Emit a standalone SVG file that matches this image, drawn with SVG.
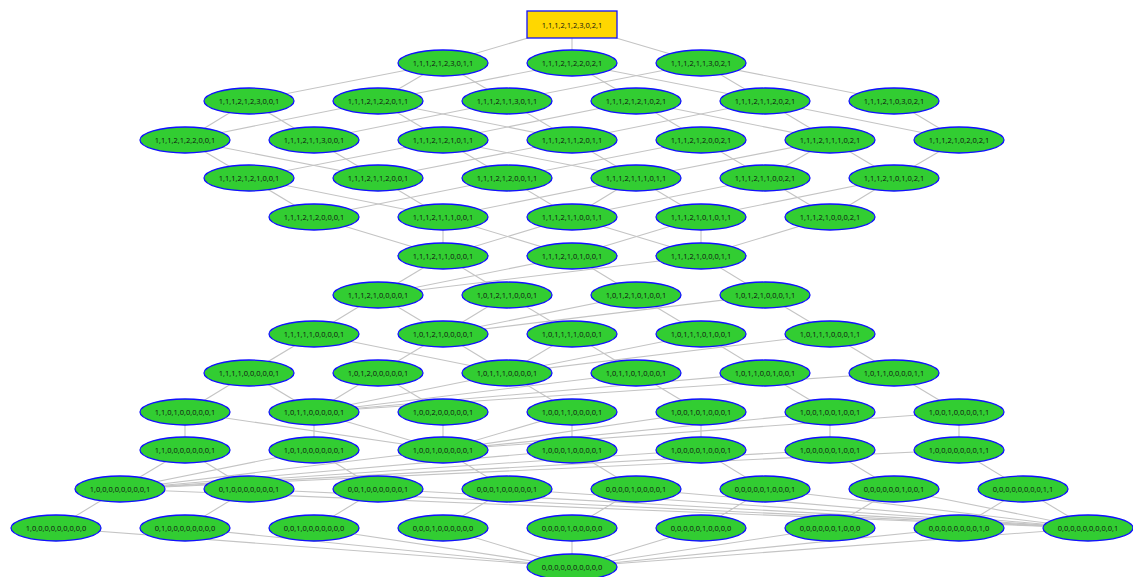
<svg xmlns="http://www.w3.org/2000/svg" width="1133" height="577" viewBox="0 0 1133 577">
<style>
.e line{stroke:#c4c4c4;stroke-width:1.1;fill:none}
.n ellipse{fill:#32cd32;stroke:#1010ff;stroke-width:1.3}
.r rect{fill:#ffd700;stroke:#1010ff;stroke-width:1.3}
text{font-family:"Open Sans","Liberation Sans",sans-serif;font-size:7.5px;fill:#111111;text-anchor:middle;dominant-baseline:central}
</style>
<rect width="1133" height="577" fill="#ffffff"/>
<g id="connectors" class="e">
<line x1="572" y1="25" x2="443" y2="63"/><line x1="572" y1="25" x2="572" y2="63"/><line x1="572" y1="25" x2="701" y2="63"/>
<line x1="443" y1="63" x2="249" y2="101"/><line x1="443" y1="63" x2="378" y2="101"/><line x1="443" y1="63" x2="507" y2="101"/>
<line x1="572" y1="63" x2="378" y2="101"/><line x1="572" y1="63" x2="636" y2="101"/><line x1="572" y1="63" x2="765" y2="101"/>
<line x1="701" y1="63" x2="507" y2="101"/><line x1="701" y1="63" x2="765" y2="101"/><line x1="701" y1="63" x2="894" y2="101"/>
<line x1="249" y1="101" x2="185" y2="140"/><line x1="249" y1="101" x2="314" y2="140"/>
<line x1="378" y1="101" x2="185" y2="140"/><line x1="378" y1="101" x2="443" y2="140"/><line x1="378" y1="101" x2="572" y2="140"/>
<line x1="507" y1="101" x2="314" y2="140"/><line x1="507" y1="101" x2="572" y2="140"/>
<line x1="636" y1="101" x2="443" y2="140"/><line x1="636" y1="101" x2="701" y2="140"/><line x1="636" y1="101" x2="830" y2="140"/>
<line x1="765" y1="101" x2="572" y2="140"/><line x1="765" y1="101" x2="830" y2="140"/><line x1="765" y1="101" x2="959" y2="140"/>
<line x1="894" y1="101" x2="959" y2="140"/>
<line x1="185" y1="140" x2="249" y2="178"/><line x1="185" y1="140" x2="378" y2="178"/>
<line x1="314" y1="140" x2="378" y2="178"/>
<line x1="443" y1="140" x2="249" y2="178"/><line x1="443" y1="140" x2="507" y2="178"/><line x1="443" y1="140" x2="636" y2="178"/>
<line x1="572" y1="140" x2="378" y2="178"/><line x1="572" y1="140" x2="636" y2="178"/>
<line x1="701" y1="140" x2="507" y2="178"/><line x1="701" y1="140" x2="765" y2="178"/>
<line x1="830" y1="140" x2="636" y2="178"/><line x1="830" y1="140" x2="765" y2="178"/><line x1="830" y1="140" x2="894" y2="178"/>
<line x1="959" y1="140" x2="894" y2="178"/>
<line x1="249" y1="178" x2="314" y2="217"/><line x1="249" y1="178" x2="443" y2="217"/>
<line x1="378" y1="178" x2="443" y2="217"/>
<line x1="507" y1="178" x2="314" y2="217"/><line x1="507" y1="178" x2="572" y2="217"/>
<line x1="636" y1="178" x2="443" y2="217"/><line x1="636" y1="178" x2="572" y2="217"/><line x1="636" y1="178" x2="701" y2="217"/>
<line x1="765" y1="178" x2="572" y2="217"/><line x1="765" y1="178" x2="830" y2="217"/>
<line x1="894" y1="178" x2="701" y2="217"/><line x1="894" y1="178" x2="830" y2="217"/>
<line x1="314" y1="217" x2="443" y2="256"/>
<line x1="443" y1="217" x2="443" y2="256"/><line x1="443" y1="217" x2="572" y2="256"/>
<line x1="572" y1="217" x2="443" y2="256"/><line x1="572" y1="217" x2="701" y2="256"/>
<line x1="701" y1="217" x2="572" y2="256"/><line x1="701" y1="217" x2="701" y2="256"/>
<line x1="830" y1="217" x2="701" y2="256"/>
<line x1="443" y1="256" x2="378" y2="295"/><line x1="443" y1="256" x2="507" y2="295"/>
<line x1="572" y1="256" x2="378" y2="295"/><line x1="572" y1="256" x2="636" y2="295"/>
<line x1="701" y1="256" x2="378" y2="295"/><line x1="701" y1="256" x2="765" y2="295"/>
<line x1="378" y1="295" x2="314" y2="334"/><line x1="378" y1="295" x2="443" y2="334"/>
<line x1="507" y1="295" x2="443" y2="334"/><line x1="507" y1="295" x2="572" y2="334"/>
<line x1="636" y1="295" x2="443" y2="334"/><line x1="636" y1="295" x2="701" y2="334"/>
<line x1="765" y1="295" x2="443" y2="334"/><line x1="765" y1="295" x2="830" y2="334"/>
<line x1="314" y1="334" x2="249" y2="373"/><line x1="314" y1="334" x2="507" y2="373"/>
<line x1="443" y1="334" x2="378" y2="373"/><line x1="443" y1="334" x2="507" y2="373"/>
<line x1="572" y1="334" x2="507" y2="373"/><line x1="572" y1="334" x2="636" y2="373"/>
<line x1="701" y1="334" x2="507" y2="373"/><line x1="701" y1="334" x2="765" y2="373"/>
<line x1="830" y1="334" x2="507" y2="373"/><line x1="830" y1="334" x2="894" y2="373"/>
<line x1="249" y1="373" x2="185" y2="412"/><line x1="249" y1="373" x2="314" y2="412"/>
<line x1="378" y1="373" x2="314" y2="412"/><line x1="378" y1="373" x2="443" y2="412"/>
<line x1="507" y1="373" x2="314" y2="412"/><line x1="507" y1="373" x2="572" y2="412"/>
<line x1="636" y1="373" x2="314" y2="412"/><line x1="636" y1="373" x2="701" y2="412"/>
<line x1="765" y1="373" x2="314" y2="412"/><line x1="765" y1="373" x2="830" y2="412"/>
<line x1="894" y1="373" x2="314" y2="412"/><line x1="894" y1="373" x2="959" y2="412"/>
<line x1="185" y1="412" x2="185" y2="450"/><line x1="185" y1="412" x2="443" y2="450"/>
<line x1="314" y1="412" x2="314" y2="450"/><line x1="314" y1="412" x2="443" y2="450"/>
<line x1="443" y1="412" x2="443" y2="450"/>
<line x1="572" y1="412" x2="443" y2="450"/><line x1="572" y1="412" x2="572" y2="450"/>
<line x1="701" y1="412" x2="443" y2="450"/><line x1="701" y1="412" x2="701" y2="450"/>
<line x1="830" y1="412" x2="443" y2="450"/><line x1="830" y1="412" x2="830" y2="450"/>
<line x1="959" y1="412" x2="443" y2="450"/><line x1="959" y1="412" x2="959" y2="450"/>
<line x1="185" y1="450" x2="120" y2="489"/><line x1="185" y1="450" x2="249" y2="489"/>
<line x1="314" y1="450" x2="120" y2="489"/><line x1="314" y1="450" x2="378" y2="489"/>
<line x1="443" y1="450" x2="120" y2="489"/><line x1="443" y1="450" x2="507" y2="489"/>
<line x1="572" y1="450" x2="120" y2="489"/><line x1="572" y1="450" x2="636" y2="489"/>
<line x1="701" y1="450" x2="120" y2="489"/><line x1="701" y1="450" x2="765" y2="489"/>
<line x1="830" y1="450" x2="120" y2="489"/><line x1="830" y1="450" x2="894" y2="489"/>
<line x1="959" y1="450" x2="120" y2="489"/><line x1="959" y1="450" x2="1023" y2="489"/>
<line x1="120" y1="489" x2="56" y2="528"/><line x1="120" y1="489" x2="1088" y2="528"/>
<line x1="249" y1="489" x2="185" y2="528"/><line x1="249" y1="489" x2="1088" y2="528"/>
<line x1="378" y1="489" x2="314" y2="528"/><line x1="378" y1="489" x2="1088" y2="528"/>
<line x1="507" y1="489" x2="443" y2="528"/><line x1="507" y1="489" x2="1088" y2="528"/>
<line x1="636" y1="489" x2="572" y2="528"/><line x1="636" y1="489" x2="1088" y2="528"/>
<line x1="765" y1="489" x2="701" y2="528"/><line x1="765" y1="489" x2="1088" y2="528"/>
<line x1="894" y1="489" x2="830" y2="528"/><line x1="894" y1="489" x2="1088" y2="528"/>
<line x1="1023" y1="489" x2="959" y2="528"/><line x1="1023" y1="489" x2="1088" y2="528"/>
<line x1="56" y1="528" x2="572" y2="567"/><line x1="185" y1="528" x2="572" y2="567"/><line x1="314" y1="528" x2="572" y2="567"/>
<line x1="443" y1="528" x2="572" y2="567"/><line x1="572" y1="528" x2="572" y2="567"/><line x1="701" y1="528" x2="572" y2="567"/>
<line x1="830" y1="528" x2="572" y2="567"/><line x1="959" y1="528" x2="572" y2="567"/><line x1="1088" y1="528" x2="572" y2="567"/>
</g>
<g id="root" class="r"><rect x="527" y="11" width="90" height="27"/><text x="572" y="24.5">1,1,1,2,1,2,3,0,2,1</text></g>
<g id="n1a" class="n"><ellipse cx="443" cy="63" rx="45" ry="13"/><text x="443" y="63">1,1,1,2,1,2,3,0,1,1</text></g>
<g id="n1b" class="n"><ellipse cx="572" cy="63" rx="45" ry="13"/><text x="572" y="63">1,1,1,2,1,2,2,0,2,1</text></g>
<g id="n1c" class="n"><ellipse cx="701" cy="63" rx="45" ry="13"/><text x="701" y="63">1,1,1,2,1,1,3,0,2,1</text></g>
<g id="n2a" class="n"><ellipse cx="249" cy="101" rx="45" ry="13"/><text x="249" y="101">1,1,1,2,1,2,3,0,0,1</text></g>
<g id="n2b" class="n"><ellipse cx="378" cy="101" rx="45" ry="13"/><text x="378" y="101">1,1,1,2,1,2,2,0,1,1</text></g>
<g id="n2c" class="n"><ellipse cx="507" cy="101" rx="45" ry="13"/><text x="507" y="101">1,1,1,2,1,1,3,0,1,1</text></g>
<g id="n2d" class="n"><ellipse cx="636" cy="101" rx="45" ry="13"/><text x="636" y="101">1,1,1,2,1,2,1,0,2,1</text></g>
<g id="n2e" class="n"><ellipse cx="765" cy="101" rx="45" ry="13"/><text x="765" y="101">1,1,1,2,1,1,2,0,2,1</text></g>
<g id="n2f" class="n"><ellipse cx="894" cy="101" rx="45" ry="13"/><text x="894" y="101">1,1,1,2,1,0,3,0,2,1</text></g>
<g id="n3a" class="n"><ellipse cx="185" cy="140" rx="45" ry="13"/><text x="185" y="140">1,1,1,2,1,2,2,0,0,1</text></g>
<g id="n3b" class="n"><ellipse cx="314" cy="140" rx="45" ry="13"/><text x="314" y="140">1,1,1,2,1,1,3,0,0,1</text></g>
<g id="n3c" class="n"><ellipse cx="443" cy="140" rx="45" ry="13"/><text x="443" y="140">1,1,1,2,1,2,1,0,1,1</text></g>
<g id="n3d" class="n"><ellipse cx="572" cy="140" rx="45" ry="13"/><text x="572" y="140">1,1,1,2,1,1,2,0,1,1</text></g>
<g id="n3e" class="n"><ellipse cx="701" cy="140" rx="45" ry="13"/><text x="701" y="140">1,1,1,2,1,2,0,0,2,1</text></g>
<g id="n3f" class="n"><ellipse cx="830" cy="140" rx="45" ry="13"/><text x="830" y="140">1,1,1,2,1,1,1,0,2,1</text></g>
<g id="n3g" class="n"><ellipse cx="959" cy="140" rx="45" ry="13"/><text x="959" y="140">1,1,1,2,1,0,2,0,2,1</text></g>
<g id="n4a" class="n"><ellipse cx="249" cy="178" rx="45" ry="13"/><text x="249" y="178">1,1,1,2,1,2,1,0,0,1</text></g>
<g id="n4b" class="n"><ellipse cx="378" cy="178" rx="45" ry="13"/><text x="378" y="178">1,1,1,2,1,1,2,0,0,1</text></g>
<g id="n4c" class="n"><ellipse cx="507" cy="178" rx="45" ry="13"/><text x="507" y="178">1,1,1,2,1,2,0,0,1,1</text></g>
<g id="n4d" class="n"><ellipse cx="636" cy="178" rx="45" ry="13"/><text x="636" y="178">1,1,1,2,1,1,1,0,1,1</text></g>
<g id="n4e" class="n"><ellipse cx="765" cy="178" rx="45" ry="13"/><text x="765" y="178">1,1,1,2,1,1,0,0,2,1</text></g>
<g id="n4f" class="n"><ellipse cx="894" cy="178" rx="45" ry="13"/><text x="894" y="178">1,1,1,2,1,0,1,0,2,1</text></g>
<g id="n5a" class="n"><ellipse cx="314" cy="217" rx="45" ry="13"/><text x="314" y="217">1,1,1,2,1,2,0,0,0,1</text></g>
<g id="n5b" class="n"><ellipse cx="443" cy="217" rx="45" ry="13"/><text x="443" y="217">1,1,1,2,1,1,1,0,0,1</text></g>
<g id="n5c" class="n"><ellipse cx="572" cy="217" rx="45" ry="13"/><text x="572" y="217">1,1,1,2,1,1,0,0,1,1</text></g>
<g id="n5d" class="n"><ellipse cx="701" cy="217" rx="45" ry="13"/><text x="701" y="217">1,1,1,2,1,0,1,0,1,1</text></g>
<g id="n5e" class="n"><ellipse cx="830" cy="217" rx="45" ry="13"/><text x="830" y="217">1,1,1,2,1,0,0,0,2,1</text></g>
<g id="n6a" class="n"><ellipse cx="443" cy="256" rx="45" ry="13"/><text x="443" y="256">1,1,1,2,1,1,0,0,0,1</text></g>
<g id="n6b" class="n"><ellipse cx="572" cy="256" rx="45" ry="13"/><text x="572" y="256">1,1,1,2,1,0,1,0,0,1</text></g>
<g id="n6c" class="n"><ellipse cx="701" cy="256" rx="45" ry="13"/><text x="701" y="256">1,1,1,2,1,0,0,0,1,1</text></g>
<g id="n7a" class="n"><ellipse cx="378" cy="295" rx="45" ry="13"/><text x="378" y="295">1,1,1,2,1,0,0,0,0,1</text></g>
<g id="n7b" class="n"><ellipse cx="507" cy="295" rx="45" ry="13"/><text x="507" y="295">1,0,1,2,1,1,0,0,0,1</text></g>
<g id="n7c" class="n"><ellipse cx="636" cy="295" rx="45" ry="13"/><text x="636" y="295">1,0,1,2,1,0,1,0,0,1</text></g>
<g id="n7d" class="n"><ellipse cx="765" cy="295" rx="45" ry="13"/><text x="765" y="295">1,0,1,2,1,0,0,0,1,1</text></g>
<g id="n8a" class="n"><ellipse cx="314" cy="334" rx="45" ry="13"/><text x="314" y="334">1,1,1,1,1,0,0,0,0,1</text></g>
<g id="n8b" class="n"><ellipse cx="443" cy="334" rx="45" ry="13"/><text x="443" y="334">1,0,1,2,1,0,0,0,0,1</text></g>
<g id="n8c" class="n"><ellipse cx="572" cy="334" rx="45" ry="13"/><text x="572" y="334">1,0,1,1,1,1,0,0,0,1</text></g>
<g id="n8d" class="n"><ellipse cx="701" cy="334" rx="45" ry="13"/><text x="701" y="334">1,0,1,1,1,0,1,0,0,1</text></g>
<g id="n8e" class="n"><ellipse cx="830" cy="334" rx="45" ry="13"/><text x="830" y="334">1,0,1,1,1,0,0,0,1,1</text></g>
<g id="n9a" class="n"><ellipse cx="249" cy="373" rx="45" ry="13"/><text x="249" y="373">1,1,1,1,0,0,0,0,0,1</text></g>
<g id="n9b" class="n"><ellipse cx="378" cy="373" rx="45" ry="13"/><text x="378" y="373">1,0,1,2,0,0,0,0,0,1</text></g>
<g id="n9c" class="n"><ellipse cx="507" cy="373" rx="45" ry="13"/><text x="507" y="373">1,0,1,1,1,0,0,0,0,1</text></g>
<g id="n9d" class="n"><ellipse cx="636" cy="373" rx="45" ry="13"/><text x="636" y="373">1,0,1,1,0,1,0,0,0,1</text></g>
<g id="n9e" class="n"><ellipse cx="765" cy="373" rx="45" ry="13"/><text x="765" y="373">1,0,1,1,0,0,1,0,0,1</text></g>
<g id="n9f" class="n"><ellipse cx="894" cy="373" rx="45" ry="13"/><text x="894" y="373">1,0,1,1,0,0,0,0,1,1</text></g>
<g id="n10a" class="n"><ellipse cx="185" cy="412" rx="45" ry="13"/><text x="185" y="412">1,1,0,1,0,0,0,0,0,1</text></g>
<g id="n10b" class="n"><ellipse cx="314" cy="412" rx="45" ry="13"/><text x="314" y="412">1,0,1,1,0,0,0,0,0,1</text></g>
<g id="n10c" class="n"><ellipse cx="443" cy="412" rx="45" ry="13"/><text x="443" y="412">1,0,0,2,0,0,0,0,0,1</text></g>
<g id="n10d" class="n"><ellipse cx="572" cy="412" rx="45" ry="13"/><text x="572" y="412">1,0,0,1,1,0,0,0,0,1</text></g>
<g id="n10e" class="n"><ellipse cx="701" cy="412" rx="45" ry="13"/><text x="701" y="412">1,0,0,1,0,1,0,0,0,1</text></g>
<g id="n10f" class="n"><ellipse cx="830" cy="412" rx="45" ry="13"/><text x="830" y="412">1,0,0,1,0,0,1,0,0,1</text></g>
<g id="n10g" class="n"><ellipse cx="959" cy="412" rx="45" ry="13"/><text x="959" y="412">1,0,0,1,0,0,0,0,1,1</text></g>
<g id="n11a" class="n"><ellipse cx="185" cy="450" rx="45" ry="13"/><text x="185" y="450">1,1,0,0,0,0,0,0,0,1</text></g>
<g id="n11b" class="n"><ellipse cx="314" cy="450" rx="45" ry="13"/><text x="314" y="450">1,0,1,0,0,0,0,0,0,1</text></g>
<g id="n11c" class="n"><ellipse cx="443" cy="450" rx="45" ry="13"/><text x="443" y="450">1,0,0,1,0,0,0,0,0,1</text></g>
<g id="n11d" class="n"><ellipse cx="572" cy="450" rx="45" ry="13"/><text x="572" y="450">1,0,0,0,1,0,0,0,0,1</text></g>
<g id="n11e" class="n"><ellipse cx="701" cy="450" rx="45" ry="13"/><text x="701" y="450">1,0,0,0,0,1,0,0,0,1</text></g>
<g id="n11f" class="n"><ellipse cx="830" cy="450" rx="45" ry="13"/><text x="830" y="450">1,0,0,0,0,0,1,0,0,1</text></g>
<g id="n11g" class="n"><ellipse cx="959" cy="450" rx="45" ry="13"/><text x="959" y="450">1,0,0,0,0,0,0,0,1,1</text></g>
<g id="n12a" class="n"><ellipse cx="120" cy="489" rx="45" ry="13"/><text x="120" y="489">1,0,0,0,0,0,0,0,0,1</text></g>
<g id="n12b" class="n"><ellipse cx="249" cy="489" rx="45" ry="13"/><text x="249" y="489">0,1,0,0,0,0,0,0,0,1</text></g>
<g id="n12c" class="n"><ellipse cx="378" cy="489" rx="45" ry="13"/><text x="378" y="489">0,0,1,0,0,0,0,0,0,1</text></g>
<g id="n12d" class="n"><ellipse cx="507" cy="489" rx="45" ry="13"/><text x="507" y="489">0,0,0,1,0,0,0,0,0,1</text></g>
<g id="n12e" class="n"><ellipse cx="636" cy="489" rx="45" ry="13"/><text x="636" y="489">0,0,0,0,1,0,0,0,0,1</text></g>
<g id="n12f" class="n"><ellipse cx="765" cy="489" rx="45" ry="13"/><text x="765" y="489">0,0,0,0,0,1,0,0,0,1</text></g>
<g id="n12g" class="n"><ellipse cx="894" cy="489" rx="45" ry="13"/><text x="894" y="489">0,0,0,0,0,0,1,0,0,1</text></g>
<g id="n12h" class="n"><ellipse cx="1023" cy="489" rx="45" ry="13"/><text x="1023" y="489">0,0,0,0,0,0,0,0,1,1</text></g>
<g id="n13a" class="n"><ellipse cx="56" cy="528" rx="45" ry="13"/><text x="56" y="528">1,0,0,0,0,0,0,0,0,0</text></g>
<g id="n13b" class="n"><ellipse cx="185" cy="528" rx="45" ry="13"/><text x="185" y="528">0,1,0,0,0,0,0,0,0,0</text></g>
<g id="n13c" class="n"><ellipse cx="314" cy="528" rx="45" ry="13"/><text x="314" y="528">0,0,1,0,0,0,0,0,0,0</text></g>
<g id="n13d" class="n"><ellipse cx="443" cy="528" rx="45" ry="13"/><text x="443" y="528">0,0,0,1,0,0,0,0,0,0</text></g>
<g id="n13e" class="n"><ellipse cx="572" cy="528" rx="45" ry="13"/><text x="572" y="528">0,0,0,0,1,0,0,0,0,0</text></g>
<g id="n13f" class="n"><ellipse cx="701" cy="528" rx="45" ry="13"/><text x="701" y="528">0,0,0,0,0,1,0,0,0,0</text></g>
<g id="n13g" class="n"><ellipse cx="830" cy="528" rx="45" ry="13"/><text x="830" y="528">0,0,0,0,0,0,1,0,0,0</text></g>
<g id="n13h" class="n"><ellipse cx="959" cy="528" rx="45" ry="13"/><text x="959" y="528">0,0,0,0,0,0,0,0,1,0</text></g>
<g id="n13i" class="n"><ellipse cx="1088" cy="528" rx="45" ry="13"/><text x="1088" y="528">0,0,0,0,0,0,0,0,0,1</text></g>
<g id="n14" class="n"><ellipse cx="572" cy="567" rx="45" ry="13"/><text x="572" y="567">0,0,0,0,0,0,0,0,0,0</text></g>
</svg>
